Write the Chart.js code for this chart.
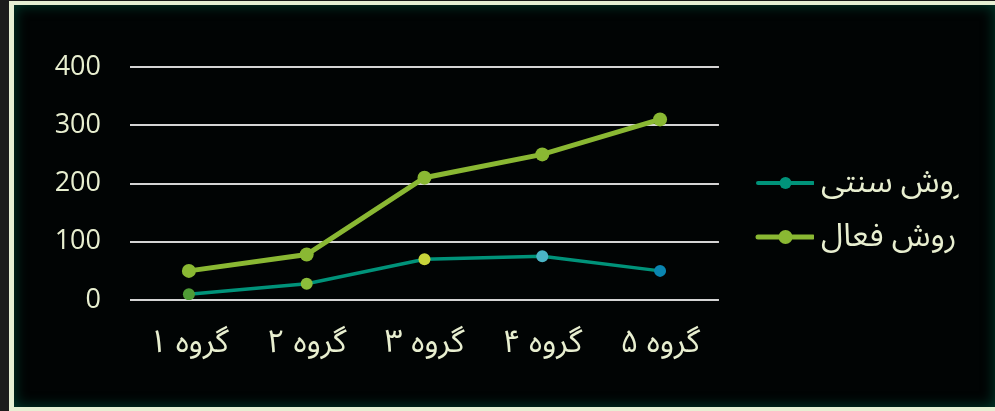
<!DOCTYPE html>
<html>
<head>
<meta charset="utf-8">
<script src="https://cdn.jsdelivr.net/npm/chart.js@4/dist/chart.umd.min.js"></script>
<style>
  html, body { margin: 0; padding: 0; width: 995px; height: 411px; overflow: hidden; background: #1c1c1c; }
  #frame {
    position: absolute; left: 9px; top: 1px; width: 981px; height: 402px;
    border-left: 5px solid #e6efd3; border-top: 4px solid #e6efd3; border-bottom: 4px solid #e6efd3;
    background: #010404;
    box-shadow: inset 0 0 14px rgba(0, 70, 52, 0.9);
  }
  #c { position: absolute; left: 0; top: 0; }
</style>
</head>
<body>
<div id="frame"></div>
<canvas id="c" width="995" height="411"></canvas>
<script>
// ---- data ----
const categories = ['گروه ۱', 'گروه ۲', 'گروه ۳', 'گروه ۴', 'گروه ۵'];
const seriesNames = ['روش سنتی', 'روش فعال'];
const traditionalValues = [10, 28, 70, 75, 50];
const activeValues = [50, 78, 210, 250, 310];
const yTickValues = [0, 100, 200, 300, 400];

// ---- styles ----
const textColor = '#e8efd0';
const fontFamily = '"Open Sans", "Noto Sans Arabic", "DejaVu Sans", sans-serif';
const fsNum = 27;
const fsAr = 32;
const tealLine = '#00937a';
const greenLine = '#8ab833';
const tradPointColors = ['#4f9b36', '#8cbd3a', '#c8d43a', '#4bb5c6', '#0a85b0'];

// legend geometry
const plotRight = 718;
const legPad = 22;
const boxW = 820 - (plotRight + legPad) - fsAr / 2;
const swStart = 757, swEnd = 812;
function makeSwatch(color, lw, r) {
  const itemX = plotRight + legPad;
  const cx = itemX + boxW / 2;
  const imgW = Math.ceil(2 * Math.max(swEnd - cx, cx - swStart)) + 2;
  const imgH = 2 * r + 4;
  const cv = document.createElement('canvas');
  cv.width = imgW; cv.height = imgH;
  const g = cv.getContext('2d');
  const left = cx - imgW / 2;
  g.strokeStyle = color; g.lineWidth = lw; g.lineCap = 'round';
  g.beginPath(); g.moveTo(swStart - left, imgH / 2); g.lineTo(swEnd - left, imgH / 2); g.stroke();
  g.fillStyle = color; g.beginPath(); g.arc((swStart + swEnd) / 2 - left, imgH / 2, r, 0, Math.PI * 2); g.fill();
  return cv;
}
const swatches = [makeSwatch(tealLine, 4, 6), makeSwatch(greenLine, 5, 7)];

const mctx = document.createElement('canvas').getContext('2d');
mctx.font = fsAr + 'px ' + fontFamily;
const maxTextW = Math.max(...seriesNames.map(t => mctx.measureText(t).width));
const legendWidth = legPad + boxW + fsAr / 2 + maxTextW + 10;
const padRight = 995 - plotRight - legendWidth + 16;

const xAxisH = 80;

new Chart(document.getElementById('c'), {
  type: 'line',
  data: {
    labels: categories,
    datasets: [
      {
        label: seriesNames[0],
        data: traditionalValues,
        borderColor: tealLine,
        borderWidth: 3.5,
        pointBackgroundColor: tradPointColors,
        pointBorderColor: tradPointColors,
        pointBorderWidth: 0,
        pointRadius: 6,
        tension: 0
      },
      {
        label: seriesNames[1],
        data: activeValues,
        borderColor: greenLine,
        borderWidth: 5,
        pointBackgroundColor: greenLine,
        pointBorderColor: greenLine,
        pointBorderWidth: 0,
        pointRadius: 7,
        tension: 0
      }
    ]
  },
  options: {
    responsive: false,
    animation: false,
    devicePixelRatio: 1,
    layout: { padding: { left: 0, top: 67, right: padRight, bottom: 411 - 300 - xAxisH } },
    scales: {
      x: {
        offset: true,
        afterFit: s => { s.height = xAxisH; },
        grid: { display: false, drawTicks: false },
        border: { display: false },
        ticks: { color: textColor, font: { family: fontFamily, size: fsAr }, padding: 24, maxRotation: 0 }
      },
      y: {
        min: 0, max: 400,
        afterFit: s => { s.width = 130; },
        afterBuildTicks: s => { s.ticks = yTickValues.map(v => ({ value: v })); },
        grid: { color: '#d4d4d4', lineWidth: 2, drawTicks: false },
        border: { display: false },
        ticks: { color: textColor, font: { family: fontFamily, size: fsNum }, padding: 29 }
      }
    },
    plugins: {
      tooltip: { enabled: false },
      legend: {
        position: 'right',
        align: 'start',
        title: { display: true, text: ' ', font: { size: 10 }, padding: { top: 183 - 67 - legPad - fsAr / 2 - 12, bottom: 0 } },
        labels: {
          color: textColor,
          font: { family: fontFamily, size: fsAr },
          usePointStyle: true,
          pointStyleWidth: boxW,
          padding: legPad,
          generateLabels: chart => {
            const items = Chart.defaults.plugins.legend.labels.generateLabels(chart);
            items.forEach((it, i) => { it.pointStyle = swatches[i]; });
            return items;
          }
        }
      }
    }
  }
});
</script>
</body>
</html>
